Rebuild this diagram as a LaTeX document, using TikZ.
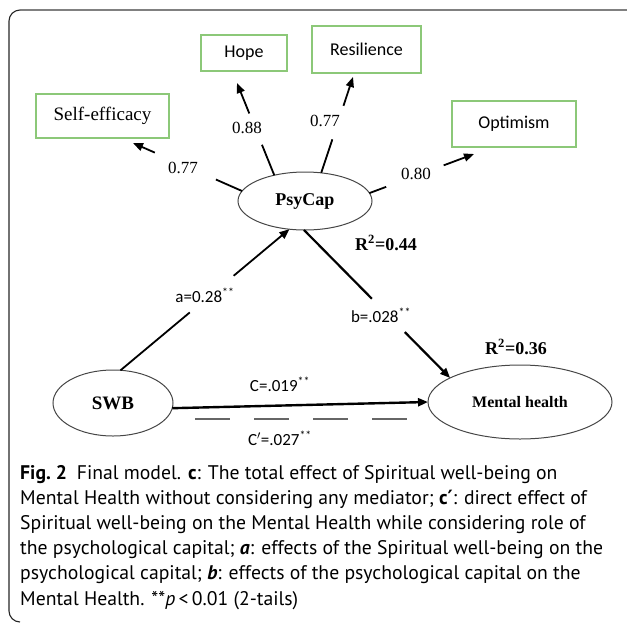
\documentclass[tikz,border=0pt]{standalone}
\usepackage{fontspec}
\setmainfont{Liberation Serif}
\newfontfamily\calfont{Carlito}
\newfontfamily\capfont{PT Sans}
\newfontfamily\symfont{DejaVu Sans}
\usetikzlibrary{arrows.meta,calc,shapes.geometric}
\definecolor{boxgreen}{RGB}{140,200,120}
\definecolor{framegray}{RGB}{128,128,128}
\definecolor{ellgray}{RGB}{70,70,70}
\begin{document}
\begin{tikzpicture}[x=1pt,y=-1pt,
  indbox/.style={draw=boxgreen,line width=1.4pt,inner sep=0pt,outer sep=0pt},
  ell/.style={ellipse,draw=ellgray,line width=1pt,inner sep=0pt,outer sep=0pt},
  spoke/.style={line width=1.8pt,black},
  tip/.style={-{Triangle[length=10pt,width=8pt]}},
  num/.style={font=\fontsize{17}{19}\selectfont,inner sep=0pt},
  coef/.style={font=\calfont\fontsize{17}{19}\selectfont,inner sep=0pt},
  rsq/.style={font=\bfseries\fontsize{18}{20}\selectfont,inner sep=0pt},
  capline/.style={anchor=base west,inner sep=0pt,text height=14pt,text depth=4pt,font=\capfont\fontsize{19.7}{25}\selectfont}]
\useasboundingbox (0,0) rectangle (627,622);
% frame
\draw[framegray,line width=2.2pt] (20,10) -- (627,10);
\draw[black!85,line width=1.1pt] (20,10) arc[start angle=270,end angle=180,radius=11] -- (9,611) arc[start angle=180,end angle=90,radius=11];
% indicator boxes
\node[indbox,minimum width=133pt,minimum height=44pt,font=\fontsize{19}{21}\selectfont] (se) at (102.5,116) {Self-efficacy};
\node[indbox,minimum width=86pt,minimum height=36pt,font=\calfont\fontsize{18}{20}\selectfont] (ho) at (244,53) {Hope};
\node[indbox,minimum width=109pt,minimum height=47pt,font=\calfont\fontsize{18}{20}\selectfont] (re) at (366.5,49.5) {Resilience};
\node[indbox,minimum width=124pt,minimum height=46pt,font=\calfont\fontsize{18}{20}\selectfont] (op) at (514,124) {Optimism};
% latent variables
\node[ell,minimum width=134pt,minimum height=58pt,font=\bfseries\fontsize{18}{20}\selectfont] (p) at (305,201) {PsyCap};
\node[ell,minimum width=120pt,minimum height=66pt,font=\bfseries\fontsize{19}{21}\selectfont] (s) at (113,403) {SWB};
\node[ell,minimum width=184pt,minimum height=74pt,font=\bfseries\fontsize{16}{18}\selectfont] (m) at (520,402) {Mental health};
% arrow end points near the boxes
\coordinate (seE) at (133,143);
\coordinate (hoE) at (237,83);
\coordinate (reE) at (353,77);
\coordinate (opE) at (474,154);
% loadings
\draw[spoke] (p.171) -- ($(p.171)!0.24!(seE)$);
\draw[spoke,tip] ($(p.171)!0.80!(seE)$) -- (seE);
\draw[spoke] (p.140) -- ($(p.140)!0.33!(hoE)$);
\draw[spoke,tip] ($(p.140)!0.67!(hoE)$) -- (hoE);
\draw[spoke] (p.60) -- ($(p.60)!0.35!(reE)$);
\draw[spoke,tip] ($(p.60)!0.70!(reE)$) -- (reE);
\draw[spoke] (p.7) -- ($(p.7)!0.16!(opE)$);
\draw[spoke,tip] ($(p.7)!0.71!(opE)$) -- (opE);
\node[num] (l1) at (183,168) {0.77};
\node[num] (l2) at (247,128) {0.88};
\node[num] (l3) at (325,121) {0.77};
\node[num] (l4) at (416,174) {0.80};
% structural paths
\draw[spoke] (s.77) -- ($(s.77)!0.41!(p.241)$);
\draw[spoke,tip] ($(s.77)!0.67!(p.241)$) -- (p.241);
\draw[spoke,line width=2.2pt] (p.268) -- ($(p.268)!0.465!(m.161)$);
\draw[spoke,line width=2.2pt,tip] ($(p.268)!0.69!(m.161)$) -- (m.161);
\draw[spoke,line width=2.4pt,tip] (s.-5) -- (m.180);
\coordinate (d1) at (195,419);
\coordinate (d2) at (412,419);
\draw[black!60,line width=1.5pt,dash pattern=on 35pt off 24pt] (d1) -- (d2);
\node[coef] (la) at (205,295) {a=0.28\textsuperscript{**}};
\node[coef] (lb) at (381,315) {b=.028\textsuperscript{**}};
\node[coef] (lc) at (280,384) {C=.019\textsuperscript{**}};
\node[coef] (lcp) at (280,438) {C$'$=.027\textsuperscript{**}};
\node[rsq] (r1) at (386,243) {R\textsuperscript{2}=0.44};
\node[rsq] (r2) at (516,347) {R\textsuperscript{2}=0.36};
% caption
\node[capline] (c1) at (20,479) {\textbf{Fig.~2}\hspace{0.5em}Final model. \textbf{c}: The total effect of Spiritual well-being on};
\node[capline] (c2) at (20,504.2) {Mental Health without considering any mediator; \textbf{c}{\symfont\bfseries ′}: direct effect of};
\node[capline] (c3) at (20,529.4) {Spiritual well-being on the Mental Health while considering role of};
\node[capline] (c4) at (20,554.6) {the psychological capital; \textbf{\textit{a}}: effects of the Spiritual well-being on the};
\node[capline] (c5) at (20,579.8) {psychological capital; \textbf{\textit{b}}: effects of the psychological capital on the};
\node[capline] (c6) at (20,605) {Mental Health. **\textit{p}\,<\,0.01 (2-tails)};
\end{tikzpicture}
\end{document}
